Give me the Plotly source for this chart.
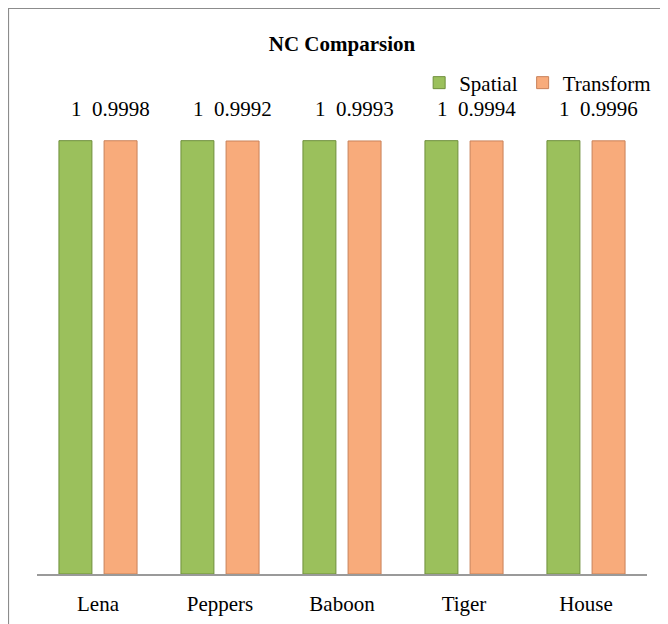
import plotly.graph_objects as go

images = ["Lena", "Peppers", "Baboon", "Tiger", "House"]
spatial = [1, 1, 1, 1, 1]
transform = [0.9998, 0.9992, 0.9993, 0.9994, 0.9996]
spatial_labels = ["1", "1", "1", "1", "1"]
transform_labels = ["0.9998", "0.9992", "0.9993", "0.9994", "0.9996"]

W, H = 668, 624
M = dict(l=29, r=29, t=46, b=58)
FONT = "Liberation Serif, Times New Roman, serif"
GREEN = "#9bc05c"
GREEN_EDGE = "#6f8f3c"
ORANGE = "#f8ab7b"
ORANGE_EDGE = "#c9825a"

fig = go.Figure()
fig.add_trace(go.Bar(
    x=images, y=spatial, name="Spatial",
    marker=dict(color=GREEN, line=dict(color=GREEN_EDGE, width=1)),
))
fig.add_trace(go.Bar(
    x=images, y=transform, name="Transform",
    marker=dict(color=ORANGE, line=dict(color=ORANGE_EDGE, width=1)),
))

# value labels above each bar
for cat, v, t in zip(images, spatial, spatial_labels):
    fig.add_annotation(x=cat, y=v, text=t, showarrow=False, xshift=-22,
                       yanchor="bottom", yshift=18)
for cat, v, t in zip(images, transform, transform_labels):
    fig.add_annotation(x=cat, y=v, text=t, showarrow=False, xshift=23,
                       yanchor="bottom", yshift=18)

# chart border (Excel-style frame, cropped on right/bottom)
pw = W - M["l"] - M["r"]
ph = H - M["t"] - M["b"]
fig.add_shape(type="rect", xref="paper", yref="paper",
              x0=(0.5 - M["l"]) / pw, x1=(W + 10 - M["l"]) / pw,
              y0=-(H + 10 - (H - M["b"])) / ph, y1=(H - M["b"] - 0.5) / ph,
              line=dict(color="#8c8c8c", width=1.2), layer="below")

fig.update_layout(
    width=W, height=H, margin=M,
    paper_bgcolor="white", plot_bgcolor="white",
    font=dict(family=FONT, size=21, color="black"),
    title=dict(text="<b>NC Comparsion</b>", x=0.5, xref="paper", y=1 - 36 / H,
               yanchor="middle", font=dict(size=21)),
    barmode="group", bargap=0.26, bargroupgap=0.27,
    showlegend=True,
    legend=dict(orientation="h", x=1.015, xanchor="right", y=(H - M["b"] - 75) / ph,
                yanchor="middle", font=dict(size=21), itemwidth=30,
                bgcolor="rgba(0,0,0,0)", traceorder="normal"),
    xaxis=dict(showline=True, linecolor="#9a9a9a", linewidth=1.5, showgrid=False,
               ticks="", ticklabelstandoff=10, tickfont=dict(size=21)),
    yaxis=dict(range=[0, 1.2], visible=False, showgrid=False),
)

fig.write_html("out.html")
